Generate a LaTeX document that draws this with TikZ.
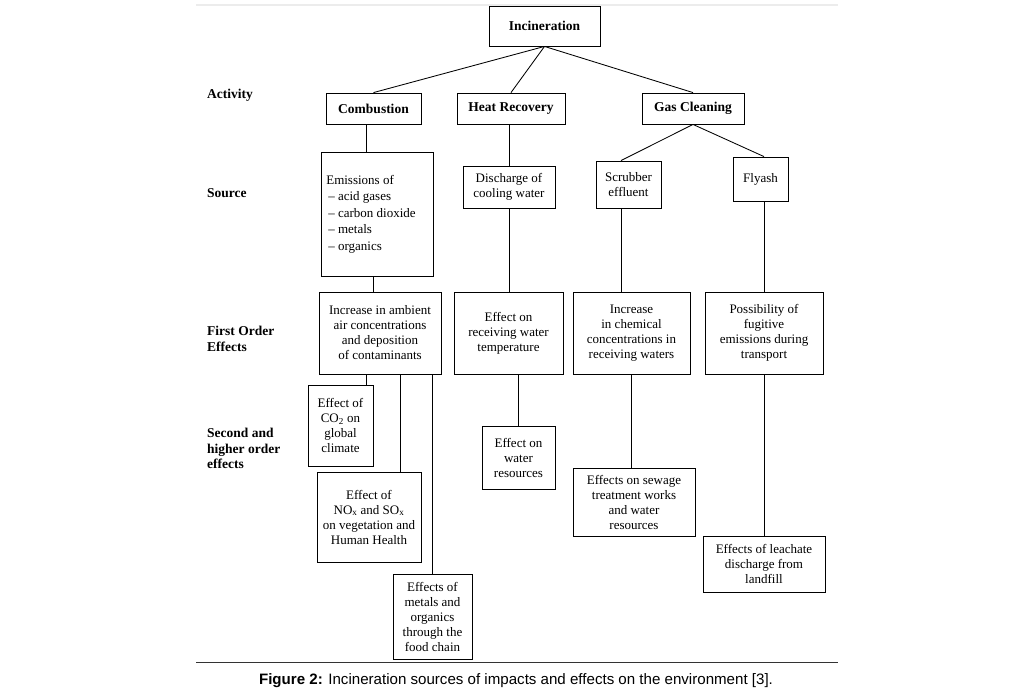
\documentclass[tikz,border=0pt]{standalone}
\usepackage{fontspec}
\setmainfont{Liberation Serif}
\newfontfamily\capfont{Liberation Sans}
\begin{document}
\begin{tikzpicture}[x=1pt,y=-1pt,
  box/.style={draw, line width=0.85pt, inner sep=0pt, align=center, font=\fontsize{13}{15}\selectfont},
  bbox/.style={box, font=\fontsize{13.5}{15}\selectfont\bfseries},
  lab/.style={anchor=west, align=left, inner sep=0pt, font=\fontsize{13.5}{15.5}\selectfont\bfseries},
  conn/.style={line width=0.85pt}]
\useasboundingbox (0,0) rectangle (1035,697);
\fill[white] (0,0) rectangle (1035,697);
% rules
\draw[gray!15, line width=2pt] (196,5) -- (838,5);
\draw[black!80, line width=1pt] (196,662) -- (838,662);
% activity
\node[bbox, minimum width=111, minimum height=40] (inc) at (544.5,26) {Incineration};
\node[bbox, minimum width=95, minimum height=31] (comb) at (373.5,108.5) {Combustion};
\node[bbox, minimum width=108, minimum height=31] (heat) at (511,108.5) {Heat Recovery};
\node[bbox, minimum width=102, minimum height=31] (gas) at (693,108.5) {Gas Cleaning};
% source
\node[box, align=left, minimum width=112, minimum height=124, font=\fontsize{13}{16.5}\selectfont] (emis) at (377,214) {Emissions of\\\hspace*{2pt}– acid gases\\\hspace*{2pt}– carbon dioxide\rule{12pt}{0pt}\\\hspace*{2pt}– metals\\\hspace*{2pt}– organics};
\node[box, minimum width=92, minimum height=42] (dis) at (509,187) {Discharge of\\cooling water};
\node[box, minimum width=65, minimum height=47] (scr) at (628.5,184.5) {Scrubber\\effluent};
\node[box, minimum width=55, minimum height=44] (fly) at (760.5,179) {Flyash};
% first order
\node[box, minimum width=122, minimum height=82] (amb) at (380,333) {Increase in ambient\\air concentrations\\and deposition\\of contaminants};
\node[box, minimum width=109, minimum height=82] (rec) at (508.5,333) {Effect on\\receiving water\\temperature};
\node[box, minimum width=117, minimum height=82] (chem) at (631.5,333) {Increase\\in chemical\\concentrations in\\receiving waters};
\node[box, minimum width=118, minimum height=82] (poss) at (764,333) {Possibility of\\fugitive\\emissions during\\transport};
% second order
\node[box, minimum width=65, minimum height=81] (co2) at (340.5,425.5) {Effect of\\CO\textsubscript{2} on\\global\\climate};
\node[box, minimum width=104, minimum height=90] (nox) at (369,517) {Effect of\\NO\textsubscript{x} and SO\textsubscript{x}\\on vegetation and\\Human Health};
\node[box, minimum width=79, minimum height=85] (met) at (432.5,616.5) {Effects of\\metals and\\organics\\through the\\food chain};
\node[box, minimum width=73, minimum height=63] (wr) at (518.5,457.5) {Effect on\\water\\resources};
\node[box, minimum width=122, minimum height=68] (sew) at (634,502) {Effects on sewage\\treatment works\\and water\\resources};
\node[box, minimum width=122, minimum height=56] (lea) at (764,564) {Effects of leachate\\discharge from\\landfill};
% labels
\node[lab] (lact) at (207,95) {Activity};
\node[lab] (lsrc) at (207,193) {Source};
\node[lab] (lfirst) at (207,339) {First Order\\Effects};
\node[lab] (lsec) at (207,448.5) {Second and\\higher order\\effects};
% helper coordinates
\coordinate (cc) at ([xshift=-7.5pt]comb.south);
\coordinate (ce) at ([xshift=-4pt]emis.south);
\coordinate (cs) at ([xshift=-7.5pt]scr.south);
\coordinate (csn) at ([xshift=-7.5pt]scr.north);
\coordinate (cf) at ([xshift=3.5pt]fly.north);
\coordinate (c1) at ([xshift=25.5pt]co2.north);
\coordinate (c2) at ([xshift=31pt]nox.north);
% connectors
\draw[conn] (inc.south) -- (comb.north);
\draw[conn] (inc.south) -- (heat.north);
\draw[conn] (inc.south) -- (gas.north);
\draw[conn] (cc) -- (cc |- emis.north);
\draw[conn] (dis.north |- heat.south) -- (dis.north);
\draw[conn] (gas.south) -- (csn);
\draw[conn] (gas.south) -- (cf);
\draw[conn] (ce) -- (ce |- amb.north);
\draw[conn] (dis.south) -- (dis.south |- rec.north);
\draw[conn] (cs) -- (cs |- chem.north);
\draw[conn] (poss.north |- fly.south) -- (poss.north);
\draw[conn] (c1 |- amb.south) -- (c1);
\draw[conn] (c2 |- amb.south) -- (c2);
\draw[conn] (met.north |- amb.south) -- (met.north);
\draw[conn] (wr.north |- rec.south) -- (wr.north);
\draw[conn] (chem.south) -- (chem.south |- sew.north);
\draw[conn] (poss.south) -- (lea.north);
% caption
\node[font=\capfont\fontsize{15.1}{17}\selectfont, inner sep=0pt] (cap) at (516,681) {\textbf{Figure 2:} Incineration sources of impacts and effects on the environment [3].};
\end{tikzpicture}
\end{document}
